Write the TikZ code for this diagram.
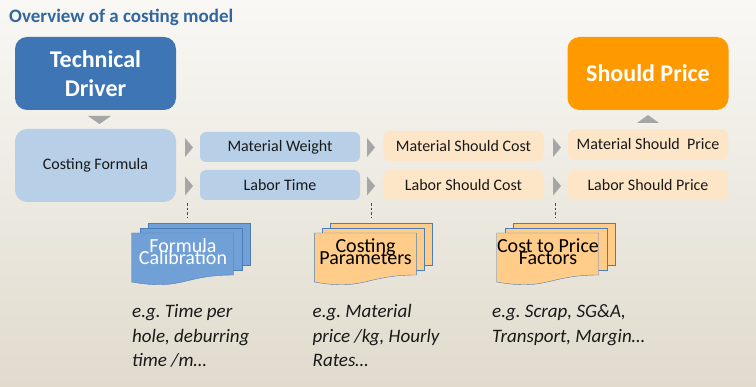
\documentclass[tikz,border=0pt]{standalone}
\usepackage{fontspec}
\setmainfont{Carlito}
\usepackage{tikz}
\usetikzlibrary{arrows}
\frenchspacing

\definecolor{titleblue}{RGB}{50,102,158}
\definecolor{driverblue}{RGB}{62,118,181}
\definecolor{lightblue}{RGB}{184,207,232}
\definecolor{peach}{RGB}{253,229,199}
\definecolor{priceorange}{RGB}{255,153,0}
\definecolor{docblue}{RGB}{112,160,213}
\definecolor{docorange}{RGB}{255,204,138}
\definecolor{docedge}{RGB}{74,126,187}
\definecolor{chevron}{RGB}{166,166,166}

\newcommand{\tightlines}{\lineskiplimit-30pt\relax}

\tikzset{
	bigbox/.style = {rounded corners = 12pt, minimum width = 161pt, minimum height = 73pt, align = center, text = white, font = \fontsize{24}{29}\selectfont\bfseries},
	smallbox/.style = {rounded corners = 6pt, minimum width = 160pt, minimum height = 30pt, text = black!90, font = \fontsize{16}{19}\selectfont},
	doctext/.style = {anchor = base, align = center, inner sep = 0pt, font = \fontsize{20}{12}\selectfont\tightlines},
	note/.style = {anchor = base west, align = left, inner sep = 0pt, text = black!90, font = \fontsize{19}{24.5}\selectfont\itshape},
	hint/.style = {dash pattern = on 2.5pt off 2pt, line width = .8pt, black!70}
}

% a stack of three pages, front page top left at (#1,#2)
\newcommand{\docstack}[3]{
	\draw [docedge, fill = #3] (#1+16,#2-10) rectangle ++(102,42);
	\draw [docedge, fill = #3] (#1+8,#2-5) rectangle ++(102,42);
	\draw [docedge, fill = #3] (#1,#2) -- ++(102,0) -- ++(0,42) .. controls (#1+51,#2+42) and (#1+51,#2+58) .. (#1,#2+49) -- cycle;
}

\begin{document}
\begin{tikzpicture}[x = 1pt, y = -1pt]
	\shade [top color = {rgb,255:red,249;green,248;blue,245}, bottom color = {rgb,255:red,224;green,219;blue,205}] (0,0) rectangle (756,387);
	\useasboundingbox (0,0) rectangle (756,387);

	\node [anchor = base west, inner sep = 0pt, text = titleblue, font = \fontsize{19}{23}\selectfont\bfseries] (title) at (9,23) {Overview of a costing model};

	% top row
	\node [bigbox, fill = driverblue] (driver) at (95.5,73.5) {Technical\\Driver};
	\node [bigbox, fill = priceorange] (price) at (648,73.5) {Should Price};
	\fill [chevron] (88,116) -- (111,116) -- (99.5,124) -- cycle;
	\fill [chevron] (637,123) -- (659,123) -- (648,115) -- cycle;

	% boxes
	\node [smallbox, rounded corners = 12pt, minimum width = 161pt, minimum height = 73pt, fill = lightblue] (formula) at (95.5,165.5) {Costing Formula};
	\node [smallbox, fill = lightblue] (weight) at (280,147) {Material Weight};
	\node [smallbox, fill = lightblue] (labor) at (280,185) {Labor Time};
	\node [smallbox, fill = peach] (matcost) at (463.5,146) {Material Should Cost};
	\node [smallbox, fill = peach] (labcost) at (463.5,185) {Labor Should Cost};
	\node [smallbox, fill = peach] (matprice) at (648,144.5) {Material Should~ Price};
	\node [smallbox, fill = peach] (labprice) at (648,185) {Labor Should Price};
	\foreach \x in {185,367,553}
		\foreach \y in {147.5,186}
			\fill [chevron] (\x,\y-9.5) -- (\x+8,\y) -- (\x,\y+9.5) -- cycle;

	% documents
	\docstack{131.7}{233}{docblue}
	\docstack{314.3}{233}{docorange}
	\docstack{496.7}{233}{docorange}
	\node [doctext, text = white] (calib) at (183,265) {Formula\\Calibration};
	\node [doctext] (params) at (365.5,265) {Costing\\Parameters};
	\node [doctext] (factors) at (548,265) {Cost to Price\\Factors};

	\coordinate (h1) at (187.5,203.5);
	\coordinate (h2) at (371,203.5);
	\coordinate (h3) at (555,203.5);
	\draw [hint] (h1) -- ++(0,14.5);
	\draw [hint] (h2) -- ++(0,14.5);
	\draw [hint] (h3) -- ++(0,14.5);

	% examples (anchored at the last line)
	\node [note] (ex1) at (132,367) {e.g. Time per\\hole, deburring\\time /m…};
	\node [note] (ex2) at (312.5,367) {e.g. Material\\price /kg, Hourly\\Rates…};
	\node [note] (ex3) at (492,342.5) {e.g. Scrap, SG\&A,\\Transport, Margin…};
\end{tikzpicture}
\end{document}
